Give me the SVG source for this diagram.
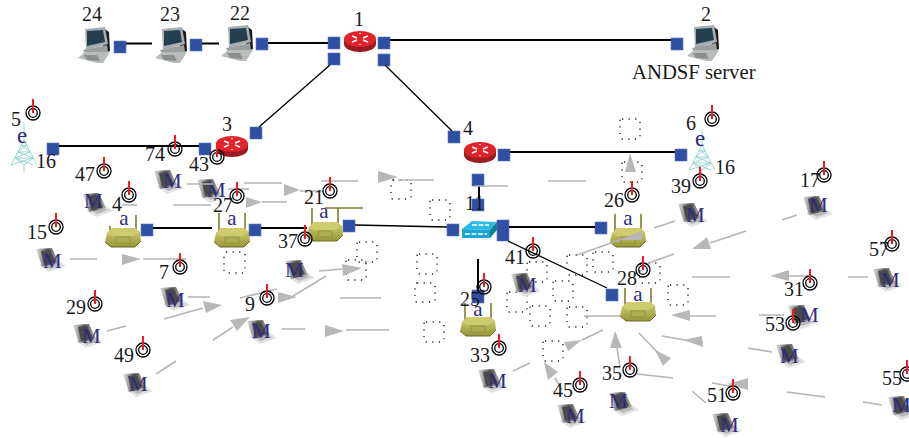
<svg xmlns="http://www.w3.org/2000/svg" width="909" height="438" viewBox="0 0 909 438">
<style>
text{font-family:"Liberation Serif","Times New Roman",serif}
.t{font-size:20px;fill:#1a1a1a}
.m{font-size:21px;fill:#2e2a7f}
.p{fill:#2f4fa3;stroke:#5f79bb;stroke-width:.6}
.b{stroke:#000;stroke-width:2;fill:none}
.n{stroke:#000;stroke-width:1.3;fill:none}
.g{stroke:#b5b5b5;stroke-width:1.6;fill:none}
.h{fill:#b8b8b8}
.d{fill:none;stroke:#331122;stroke-width:1.4;stroke-dasharray:1.2 5.4}
.o{stroke:#7f7d2e;stroke-width:1.6;fill:none}
.tw{stroke:#86cccb;stroke-width:.8;fill:none}
.c{fill:none;stroke:#000;stroke-width:1.3}
.r{stroke:#ee1c25;stroke-width:2}
</style>
<defs>
<linearGradient id="lg" x1="0" y1="0" x2="1" y2="0"><stop offset="0" stop-color="#e4e4e4"/><stop offset=".5" stop-color="#555"/><stop offset="1" stop-color="#b0b0b0"/></linearGradient>
<linearGradient id="ag" x1="0" y1="0" x2="0" y2="1"><stop offset="0" stop-color="#d2cf72"/><stop offset="1" stop-color="#98963c"/></linearGradient>
<g id="desktop">
<polygon points="27,2 31,5 32,24 24,27" fill="#1c1c1c"/>
<polygon points="7,2 27,0 30,17 8,23" fill="#a9adb0"/>
<polygon points="9,4 25,3 27,15 9,19" fill="#24404f"/>
<polygon points="5,23 29,18 30,25 20,29 7,27" fill="#9c9fa0"/>
<polygon points="0,31 7,25 32,25 25,36 19,36" fill="#b9bcbc"/>
<polygon points="6,28 19,28 22,34 9,33" fill="#8b8e8e"/>
</g>
<g id="laptop">
<polygon points="3,17 13,24 30,18 23,13 9,13" fill="#e2e2e2"/>
<polygon points="9,18 14,21 25,17 21,15" fill="#b9b9b9"/>
<polygon points="0,1 16,0 23,15 6,19" fill="url(#lg)"/>
<polygon points="5,3 14,2 20,14 8,17" fill="#4a4a4a"/>
</g>
<g id="router">
<ellipse cx="16" cy="13" rx="16" ry="8" fill="#9b1b20"/>
<rect x="0" y="8" width="32" height="5" fill="#9b1b20"/>
<ellipse cx="16" cy="8" rx="16" ry="8" fill="#e1242b"/>
<path d="M8 5l5 2M8 11l5-2M24 5l-5 2M24 11l-5-2M16 2v1M16 13v1" stroke="#fff" stroke-width="1.5" fill="none"/>
</g>
<g id="ap">
<polygon points="2,5 7,0 30,0 35,4 36,13 30,19 6,19 0,14" fill="url(#ag)"/>
<polygon points="2,6 8,8 28,8 35,4 30,0 7,0" fill="#cfcc6e"/>
<rect x="11" y="9" width="14" height="6" fill="#aeac50" stroke="#7f7d2e" stroke-width=".5"/>
<path d="M0 14l6 5h24l6-6" stroke="#6f6d25" stroke-width="1" fill="none"/>
</g>
<g id="tower">
<path class="tw" d="M13 0V16L0 41M13 16L26 41M13 41V48M7 28L19 28M4 34L22 34M9 22H17M10 20L19 28L4 34L22 41M16 20L7 28L22 34L0 41M13 41L4 34M13 41L22 34"/>
</g>
<g id="rx">
<circle class="c" r="7"/><circle class="c" r="4.3"/>
<line class="r" x1="0" y1="-14" x2="0" y2="0"/>
</g>
</defs>

<g id="dotted-areas">
<rect class="d" x="391" y="180" width="20" height="19" rx="2"/>
<rect class="d" x="430" y="200" width="20" height="20" rx="2"/>
<rect class="d" x="620" y="119" width="20" height="20" rx="2"/>
<rect class="d" x="622" y="162" width="20" height="20" rx="2"/>
<rect class="d" x="224" y="252" width="21" height="21" rx="2"/>
<rect class="d" x="357" y="242" width="20" height="20" rx="2"/>
<rect class="d" x="346" y="260" width="20" height="20" rx="2"/>
<rect class="d" x="417" y="254" width="20" height="20" rx="2"/>
<rect class="d" x="415" y="283" width="20" height="19" rx="2"/>
<rect class="d" x="424" y="322" width="20" height="20" rx="2"/>
<rect class="d" x="527" y="262" width="20" height="20" rx="2"/>
<rect class="d" x="553" y="281" width="20" height="20" rx="2"/>
<rect class="d" x="507" y="292" width="20" height="20" rx="2"/>
<rect class="d" x="530" y="306" width="20" height="20" rx="2"/>
<rect class="d" x="567" y="307" width="20" height="20" rx="2"/>
<rect class="d" x="543" y="341" width="20" height="20" rx="2"/>
<rect class="d" x="567" y="255" width="20" height="20" rx="2"/>
<rect class="d" x="593" y="252" width="20" height="20" rx="2"/>
<rect class="d" x="640" y="263" width="20" height="20" rx="2"/>
<rect class="d" x="668" y="285" width="20" height="20" rx="2"/>
</g>

<g id="node-24"><use href="#desktop" x="78" y="27"/><rect class="p" x="114" y="41" width="12" height="12"/><text class="t" x="82" y="21">24</text></g>
<g id="node-23"><use href="#desktop" x="155" y="27"/><rect class="p" x="190" y="39" width="12" height="12"/><text class="t" x="160" y="21">23</text></g>
<g id="node-22"><use href="#desktop" x="221" y="25"/><rect class="p" x="256" y="38" width="12" height="12"/><text class="t" x="230" y="20">22</text></g>
<g id="node-1"><use href="#router" x="344" y="31"/><rect class="p" x="328" y="37" width="12" height="12"/><rect class="p" x="328" y="53" width="12" height="12"/><rect class="p" x="378" y="37" width="12" height="12"/><rect class="p" x="378" y="54" width="12" height="12"/><text class="t" x="359" y="26" text-anchor="middle">1</text></g>
<g id="node-2"><use href="#desktop" x="687" y="25"/><rect class="p" x="671" y="38" width="12" height="12"/><text class="t" x="706" y="21" text-anchor="middle">2</text><text class="t" x="632" y="79" style="font-size:20.700px">ANDSF server</text></g>
<g id="node-3"><use href="#router" x="216" y="136"/><rect class="p" x="199" y="143" width="12" height="12"/><rect class="p" x="250" y="127" width="12" height="12"/><text class="t" x="227" y="131" text-anchor="middle">3</text></g>
<g id="node-4"><use href="#router" x="464" y="142"/><rect class="p" x="448" y="131" width="12" height="12"/><rect class="p" x="498" y="149" width="12" height="12"/><rect class="p" x="472" y="174" width="12" height="12"/><text class="t" x="468" y="135" text-anchor="middle">4</text></g>
<g id="node-tower-5"><use href="#tower" x="11" y="124"/><text class="m" x="17" y="143" style="font-size:23px">e</text><rect class="p" x="47" y="143" width="12" height="12"/><text class="t" x="36" y="168">16</text></g>
<g id="node-tower-6"><use href="#tower" x="689" y="129" /><text class="m" x="695" y="146" style="font-size:23px">e</text><rect class="p" x="675" y="149" width="12" height="12"/><text class="t" x="715" y="174">16</text></g>
<g id="node-11"><polygon points="462,229 472,221 497,222 490,230" fill="#2bbce6"/><polygon points="462,229 490,230 490,238 462,238" fill="#1ba7d1"/><polygon points="490,230 497,222 497,230 490,238" fill="#0f7f96"/><path d="M472 225h17M465 234h22" stroke="#fff" stroke-width="1.4" stroke-dasharray="5 1.5" fill="none"/><rect class="p" x="447" y="224" width="12" height="12"/><rect class="p" x="497" y="220" width="12" height="21"/><rect class="p" x="472" y="199" width="12" height="12"/><text class="t" x="465" y="210">11</text></g>

<g id="ap-4"><line class="o" x1="110" y1="226" x2="110" y2="232"/><line class="o" x1="136" y1="215" x2="136" y2="232"/><use href="#ap" x="105" y="228"/><text class="m" x="124" y="225" text-anchor="middle">a</text><rect class="p" x="141" y="224" width="12" height="12"/></g>
<g id="ap-27"><line class="o" x1="219" y1="213" x2="219" y2="232"/><line class="o" x1="245" y1="213" x2="245" y2="232"/><use href="#ap" x="214" y="228"/><text class="m" x="232" y="225" text-anchor="middle">a</text><rect class="p" x="249" y="224" width="12" height="12"/></g>
<g id="ap-21"><line class="o" x1="312" y1="208" x2="312" y2="226"/><line class="o" x1="338" y1="208" x2="338" y2="226"/><line class="o" x1="325" y1="208" x2="363" y2="208"/><use href="#ap" x="307" y="222"/><text class="m" x="324" y="218" text-anchor="middle">a</text><rect class="p" x="343" y="220" width="12" height="12"/></g>
<g id="ap-25"><line class="o" x1="465" y1="303" x2="465" y2="321"/><line class="o" x1="491" y1="303" x2="491" y2="321"/><use href="#ap" x="460" y="317"/><text class="m" x="478" y="316" text-anchor="middle">a</text><rect class="p" x="472" y="290" width="12" height="13"/></g>
<g id="ap-26"><line class="o" x1="615" y1="214" x2="615" y2="232"/><line class="o" x1="641" y1="214" x2="641" y2="232"/><use href="#ap" x="610" y="228"/><text class="m" x="628" y="225" text-anchor="middle">a</text><rect class="p" x="595" y="222" width="12" height="12"/></g>
<g id="ap-28"><line class="o" x1="625" y1="288" x2="625" y2="306"/><line class="o" x1="651" y1="288" x2="651" y2="306"/><use href="#ap" x="620" y="302"/><text class="m" x="638" y="301" text-anchor="middle">a</text><rect class="p" x="606" y="289" width="12" height="12"/></g>

<g id="laptop-47"><use href="#laptop" x="83" y="193"/><text class="m" x="84" y="208">M</text></g>
<g id="laptop-74"><use href="#laptop" x="154" y="170"/><text class="m" x="163" y="188">M</text></g>
<g id="laptop-43"><use href="#laptop" x="197" y="179"/><text class="m" x="207" y="197">M</text></g>
<g id="laptop-15"><use href="#laptop" x="36" y="248"/><text class="m" x="43" y="268">M</text></g>
<g id="laptop-7"><use href="#laptop" x="160" y="287"/><text class="m" x="166" y="307">M</text></g>
<g id="laptop-29"><use href="#laptop" x="73" y="324"/><text class="m" x="82" y="343">M</text></g>
<g id="laptop-9"><use href="#laptop" x="247" y="320"/><text class="m" x="252" y="338">M</text></g>
<g id="laptop-49"><use href="#laptop" x="123" y="373"/><text class="m" x="129" y="391">M</text></g>
<g id="laptop-37"><use href="#laptop" x="285" y="260"/><text class="m" x="285" y="277">M</text></g>
<g id="laptop-33"><use href="#laptop" x="478" y="369"/><text class="m" x="488" y="388">M</text></g>
<g id="laptop-41"><use href="#laptop" x="511" y="273"/><text class="m" x="518" y="292">M</text></g>
<g id="laptop-45"><use href="#laptop" x="557" y="404"/><text class="m" x="566" y="423">M</text></g>
<g id="laptop-39"><use href="#laptop" x="678" y="203"/><text class="m" x="686" y="222">M</text></g>
<g id="laptop-17"><use href="#laptop" x="803" y="196"/><text class="m" x="809" y="212">M</text></g>
<g id="laptop-57"><use href="#laptop" x="873" y="268"/><text class="m" x="881" y="287">M</text></g>
<g id="laptop-31"><use href="#laptop" x="788" y="305"/><text class="m" x="800" y="322">M</text></g>
<g id="laptop-53"><use href="#laptop" x="776" y="344"/><text class="m" x="780" y="363">M</text></g>
<g id="laptop-35"><use href="#laptop" x="609" y="392"/><text class="m" x="609" y="408">M</text></g>
<g id="laptop-51"><use href="#laptop" x="712" y="413"/><text class="m" x="720" y="432">M</text></g>
<g id="laptop-55"><use href="#laptop" x="888" y="396"/><text class="m" x="892" y="412">M</text></g>

<g id="connectors">
<path class="b" d="M126 43.500H152M202 43.500H219M268 43H328M390 40H671M59 146H199M510 152H675M479 186V199M153 228H212M261 228H307M509 227H595M478 259V290"/>
<path class="n" d="M330 65L259 127M385 65L452 131M355 225L447 227M508 241L607 288"/>
<path class="g" d="M187 184H213M244 183H282M173 205H211M262 202H287M228 189H249M122 205H137M321 181H358M398 180H434M300 191H323M475 186H508M548 181H586M70 259H97M143 259H186M188 297H210M164 319L203 308M107 331L126 326M156 374L176 361M213 340L233 327M240 298L277 289M293 296L326 276M282 329H305M319 271L342 269M340 298H381M346 330H389M513 371L530 363M555 378L562 390M584 316H620M654 228L675 221M577 255L642 232M646 264L674 254M782 220L797 215M746 231L710 243M692 277H730M789 276H808M848 277H868M690 316H716M759 315H784M662 336L703 343M748 348L772 352M639 333L660 355M617 348L620 367M637 374L673 378M692 391L706 403M712 383L730 386M787 392L825 397M863 402L882 405M582 340L603 330"/>
<g class="h">
<polygon points="284,184 284,196 300,190"/>
<polygon points="246,197 246,208 262,202"/>
<polygon points="378,171 378,183 398,177"/>
<polygon points="630,153 625,172 636,172"/>
<polygon points="122,254 122,265 141,259"/>
<polygon points="203,301 206,313 222,305"/>
<polygon points="230,320 237,331 250,317"/>
<polygon points="278,292 278,303 297,297"/>
<polygon points="342,264 343,276 362,268"/>
<polygon points="325,325 325,337 344,331"/>
<polygon points="564,342 568,351 582,340"/>
<polygon points="544,362 548,380 558,372"/>
<polygon points="642,232 622,240 642,240"/>
<polygon points="692,249 707,237 711,249"/>
<polygon points="770,276 789,270 789,281"/>
<polygon points="671,315 690,310 690,321"/>
<polygon points="683,340 702,336 703,347"/>
<polygon points="655,350 671,358 663,366"/>
<polygon points="615,331 610,348 622,348"/>
<polygon points="748,378 748,390 728,384"/>
</g>
</g>

<g id="rx-5"><use href="#rx" x="33" y="113"/><text class="t" x="11" y="126">5</text></g>
<g id="rx-74"><use href="#rx" x="175" y="149"/><text class="t" x="145" y="161">74</text></g>
<g id="rx-43"><use href="#rx" x="217" y="157"/><text class="t" x="189" y="171">43</text></g>
<g id="rx-47"><use href="#rx" x="104" y="171"/><text class="t" x="75" y="181">47</text></g>
<g id="rx-4"><use href="#rx" x="129" y="195"/><text class="t" x="112" y="211">4</text></g>
<g id="rx-27"><use href="#rx" x="237" y="196"/><text class="t" x="213" y="212">27</text></g>
<g id="rx-21"><use href="#rx" x="330" y="191"/><text class="t" x="304" y="204">21</text></g>
<g id="rx-15"><use href="#rx" x="56" y="227"/><text class="t" x="27" y="239">15</text></g>
<g id="rx-7"><use href="#rx" x="180" y="267"/><text class="t" x="159" y="279">7</text></g>
<g id="rx-29"><use href="#rx" x="95" y="304"/><text class="t" x="66" y="314">29</text></g>
<g id="rx-9"><use href="#rx" x="267" y="298"/><text class="t" x="245" y="311">9</text></g>
<g id="rx-49"><use href="#rx" x="143" y="350"/><text class="t" x="114" y="362">49</text></g>
<g id="rx-37"><use href="#rx" x="305" y="239"/><text class="t" x="278" y="248">37</text></g>
<g id="rx-41"><use href="#rx" x="533" y="251"/><text class="t" x="505" y="264">41</text></g>
<g id="rx-25"><use href="#rx" x="484" y="287"/><text class="t" x="460" y="306">25</text></g>
<g id="rx-33"><use href="#rx" x="499" y="348"/><text class="t" x="470" y="362">33</text></g>
<g id="rx-45"><use href="#rx" x="580" y="385"/><text class="t" x="553" y="397">45</text></g>
<g id="rx-26"><use href="#rx" x="632" y="195"/><text class="t" x="604" y="207">26</text></g>
<g id="rx-6"><use href="#rx" x="712" y="119"/><text class="t" x="686" y="130">6</text></g>
<g id="rx-39"><use href="#rx" x="700" y="181"/><text class="t" x="671" y="193">39</text></g>
<g id="rx-17"><use href="#rx" x="824" y="175"/><text class="t" x="800" y="187">17</text></g>
<g id="rx-57"><use href="#rx" x="892" y="244"/><text class="t" x="869" y="256">57</text></g>
<g id="rx-28"><use href="#rx" x="643" y="270"/><text class="t" x="617" y="285">28</text></g>
<g id="rx-31"><use href="#rx" x="810" y="283"/><text class="t" x="784" y="296">31</text></g>
<g id="rx-53"><use href="#rx" x="793" y="323"/><text class="t" x="765" y="331">53</text></g>
<g id="rx-35"><use href="#rx" x="630" y="370"/><text class="t" x="602" y="380">35</text></g>
<g id="rx-51"><use href="#rx" x="733" y="393"/><text class="t" x="707" y="402">51</text></g>
<g id="rx-55"><use href="#rx" x="907" y="374"/><text class="t" x="882" y="385">55</text></g>
</svg>
